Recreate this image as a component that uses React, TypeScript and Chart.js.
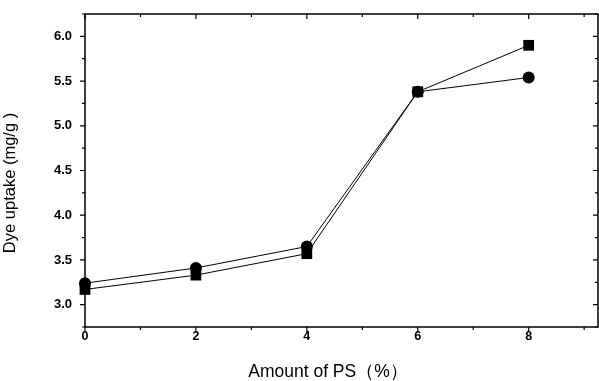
import React, { useEffect, useRef } from "react";
import { Chart, registerables } from "chart.js";

Chart.register(...registerables);

const xValues = [0, 2, 4, 6, 8];
const squareSeries = [3.17, 3.33, 3.57, 5.38, 5.9];
const circleSeries = [3.24, 3.41, 3.65, 5.38, 5.54];
const xMajorTicks = [0, 2, 4, 6, 8];
const xMinorTicks = [1, 3, 5, 7, 9];
const yMajorTicks = [3.0, 3.5, 4.0, 4.5, 5.0, 5.5, 6.0];
const yMinorTicks = [2.75, 3.25, 3.75, 4.25, 4.75, 5.25, 5.75, 6.25];
const xTitle = "Amount of PS（%）";
const yTitle = "Dye uptake (mg/g )";

const FONT = "'Liberation Sans', Arial, sans-serif";

const framePlugin = {
  id: "frameTicks",
  beforeDatasetsDraw(chart: any) {
    const { ctx, chartArea } = chart;
    const { left, right, top, bottom } = chartArea;
    const xs = chart.scales.x;
    const ys = chart.scales.y;
    ctx.save();
    ctx.strokeStyle = "#000";
    ctx.lineWidth = 1.5;
    ctx.strokeRect(left, top, right - left, bottom - top);
    ctx.lineWidth = 1.2;
    ctx.beginPath();
    const major = 5;
    const minor = 3;
    xMajorTicks.forEach((v) => {
      const px = xs.getPixelForValue(v);
      ctx.moveTo(px, bottom);
      ctx.lineTo(px, bottom + major);
      ctx.moveTo(px, top);
      ctx.lineTo(px, top + major);
    });
    xMinorTicks.forEach((v) => {
      const px = xs.getPixelForValue(v);
      if (px > right) return;
      ctx.moveTo(px, bottom);
      ctx.lineTo(px, bottom + minor);
      ctx.moveTo(px, top);
      ctx.lineTo(px, top + minor);
    });
    yMajorTicks.forEach((v) => {
      const py = ys.getPixelForValue(v);
      ctx.moveTo(left, py);
      ctx.lineTo(left - major, py);
      ctx.moveTo(right, py);
      ctx.lineTo(right - major, py);
    });
    yMinorTicks.forEach((v) => {
      const py = ys.getPixelForValue(v);
      ctx.moveTo(left, py);
      ctx.lineTo(left - minor, py);
      ctx.moveTo(right, py);
      ctx.lineTo(right - minor, py);
    });
    ctx.stroke();
    ctx.restore();
  },
  afterDraw(chart: any) {
    const { ctx } = chart;
    ctx.save();
    ctx.fillStyle = "#000";
    ctx.textAlign = "center";
    ctx.textBaseline = "middle";
    ctx.font = `17.5px ${FONT}`;
    ctx.fillText(xTitle, 328, 372);
    ctx.translate(10, 183);
    ctx.rotate(-Math.PI / 2);
    ctx.font = `16.5px ${FONT}`;
    ctx.fillText(yTitle, 0, 0);
    ctx.restore();
  },
};

export default function App() {
  const ref = useRef<HTMLCanvasElement | null>(null);
  useEffect(() => {
    if (!ref.current) return;
    const chart = new Chart(ref.current, {
      type: "line",
      data: {
        datasets: [
          {
            label: "square",
            data: xValues.map((x, i) => ({ x, y: squareSeries[i] })),
            borderColor: "#000",
            backgroundColor: "#000",
            borderWidth: 1,
            pointStyle: "rect",
            pointRadius: 7.6,
            pointBorderWidth: 0,
            tension: 0,
          },
          {
            label: "circle",
            data: xValues.map((x, i) => ({ x, y: circleSeries[i] })),
            borderColor: "#000",
            backgroundColor: "#000",
            borderWidth: 1,
            pointStyle: "circle",
            pointRadius: 6,
            pointBorderWidth: 0,
            tension: 0,
          },
        ],
      },
      plugins: [framePlugin],
      options: {
        animation: false,
        responsive: false,
        clip: false as any,
        layout: { autoPadding: false, padding: { top: 14, right: 1, left: 0, bottom: 0 } },
        plugins: { legend: { display: false }, tooltip: { enabled: false } },
        scales: {
          x: {
            type: "linear",
            min: 0,
            max: 9.25,
            afterBuildTicks: (s: any) => {
              s.ticks = xMajorTicks.map((v) => ({ value: v }));
            },
            afterFit: (s: any) => {
              s.height = 54;
              s.paddingLeft = 0;
              s.paddingRight = 0;
            },
            grid: { display: false, drawTicks: false },
            border: { display: false },
            ticks: {
              padding: 2,
              color: "#000",
              font: { family: FONT, size: 12.5, weight: "bold" },
              callback: (v: any) => String(v),
            },
          },
          y: {
            type: "linear",
            min: 2.75,
            max: 6.25,
            afterBuildTicks: (s: any) => {
              s.ticks = yMajorTicks.map((v) => ({ value: v }));
            },
            afterFit: (s: any) => {
              s.width = 85;
              s.paddingTop = 0;
              s.paddingBottom = 0;
            },
            grid: { display: false, drawTicks: false },
            border: { display: false },
            ticks: {
              padding: 13,
              color: "#000",
              font: { family: FONT, size: 13, weight: "bold" },
              callback: (v: any) => Number(v).toFixed(1),
            },
          },
        },
      },
    } as any);
    return () => chart.destroy();
  }, []);
  return (
    <div style={{ position: "fixed", left: 0, top: 0, width: 599, height: 381, background: "#fff" }}>
      <canvas ref={ref} width={599} height={381} />
    </div>
  );
}
